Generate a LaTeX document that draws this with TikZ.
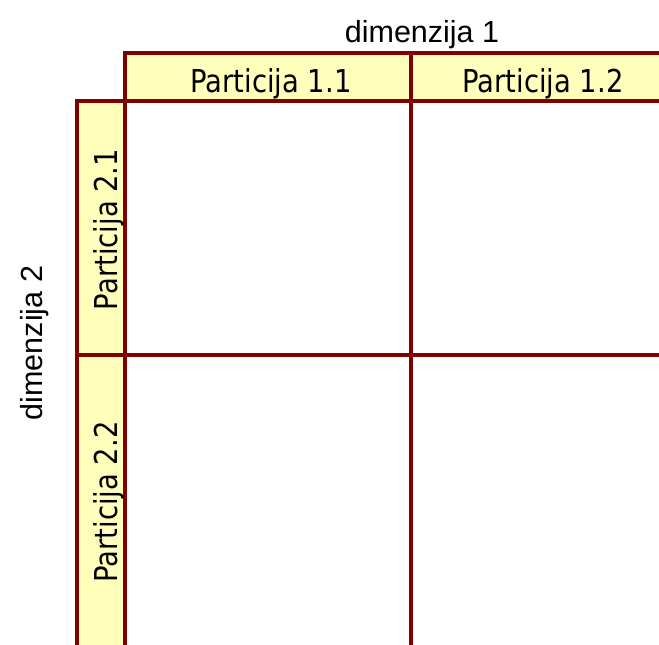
\documentclass[tikz,border=0pt]{standalone}
\usepackage{fontspec}
\setmainfont{DejaVu Sans}[FakeStretch=0.87]
\newfontfamily\dimfont{Liberation Sans}
\definecolor{bordo}{HTML}{800000}
\definecolor{hdr}{HTML}{FFFFBB}
\begin{document}
\begin{tikzpicture}[x=1pt,y=-1pt,
  cellline/.style={draw=bordo,line width=4.5pt},
  hdrcell/.style={cellline,fill=hdr},
  parttext/.style={font=\fontsize{31.5}{36}\selectfont,inner sep=0pt,anchor=base,text=black},
  dimtext/.style={font=\dimfont\fontsize{30.5}{36}\selectfont,inner sep=0pt,anchor=base,text=black}]
\useasboundingbox (0,0) rectangle (659,645);
\clip (0,0) rectangle (659,645);
% header cells
\draw[hdrcell] (125,53) rectangle (411,101);
\draw[hdrcell] (411,53) rectangle (720,101);
\draw[hdrcell] (77,101) rectangle (125,355);
\draw[hdrcell] (77,355) rectangle (125,720);
% body cells
\draw[cellline] (125,101) rectangle (411,355);
\draw[cellline] (411,101) rectangle (720,355);
\draw[cellline] (125,355) rectangle (411,720);
\draw[cellline] (411,355) rectangle (720,720);
% texts
\node[dimtext] (d1) at (422,42) {dimenzija 1};
\node[dimtext,rotate=90] (d2) at (42,343) {dimenzija 2};
\node[parttext] (p11) at (271,92) {Particija 1.1};
\node[parttext] (p12) at (543,92) {Particija 1.2};
\node[parttext,rotate=90] (p21) at (117,229.5) {Particija 2.1};
\node[parttext,rotate=90] (p22) at (117,502) {Particija 2.2};
\end{tikzpicture}
\end{document}
